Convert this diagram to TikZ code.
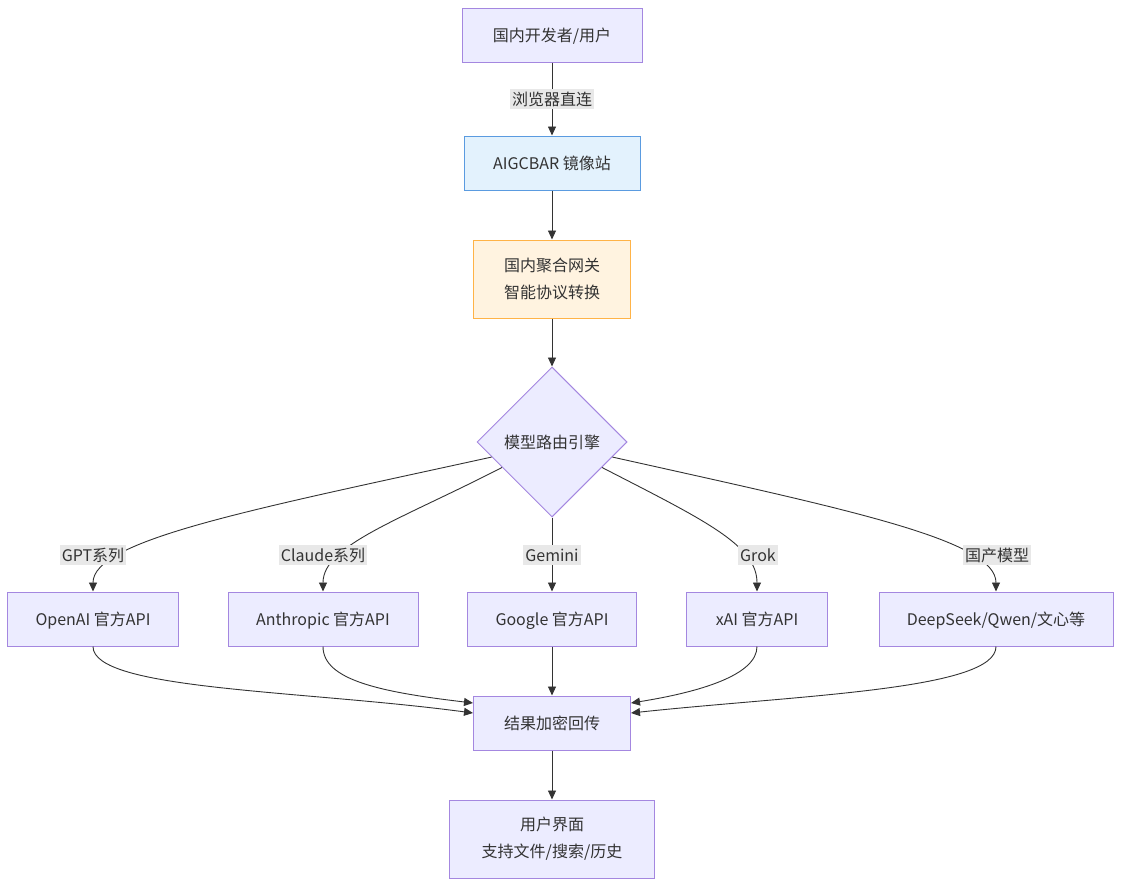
\documentclass[tikz,border=0pt]{standalone}
\usepackage{fontspec}
\setmainfont{Noto Sans CJK SC}
\usetikzlibrary{shapes.geometric,arrows.meta}
\definecolor{nodefill}{HTML}{ECECFF}
\definecolor{nodeline}{HTML}{A487E0}
\definecolor{mirrorfill}{HTML}{E3F2FD}
\definecolor{mirrorline}{HTML}{5A9BE0}
\definecolor{gatefill}{HTML}{FFF3E0}
\definecolor{gateline}{HTML}{FFB347}
\definecolor{edgegray}{HTML}{333333}
\definecolor{labelbg}{HTML}{E8E8E8}
\begin{document}
\begin{tikzpicture}[x=1pt, y=-1pt,
  font=\fontsize{16pt}{27pt}\selectfont, text=edgegray,
  box/.style={draw=nodeline, fill=nodefill, line width=1pt, minimum height=54pt, inner sep=0pt, align=center, text height=14pt, text depth=2pt},
  tallbox/.style={box, minimum height=78pt, text height=, text depth=},
  lbl/.style={fill=labelbg, inner sep=2pt, text height=14pt, text depth=2pt},
  edge/.style={draw=edgegray, line width=0.9pt, -{Triangle[length=9pt,width=8pt]}}]
    \useasboundingbox (0,0) rectangle (1121,886);

    \node[box, minimum width=180pt] (dev) at (552,35) {国内开发者/用户};
    \node[box, draw=mirrorline, fill=mirrorfill, minimum width=176pt] (mirror) at (552,163) {AIGCBAR 镜像站};
    \node[tallbox, draw=gateline, fill=gatefill, minimum width=157pt] (gate) at (552,279) {国内聚合网关\\智能协议转换};
    \node[box, shape=diamond, minimum width=150pt, minimum height=150pt] (router) at (552,442) {模型路由引擎};

    \node[box, minimum width=171pt] (openai) at (93,619) {OpenAI 官方API};
    \node[box, minimum width=190pt] (anthropic) at (323,619) {Anthropic 官方API};
    \node[box, minimum width=169pt] (google) at (552,619) {Google 官方API};
    \node[box, minimum width=141pt] (xai) at (757,619) {xAI 官方API};
    \node[box, minimum width=234pt] (domestic) at (996,619) {DeepSeek/Qwen/文心等};

    \node[box, minimum width=157pt] (result) at (552,723) {结果加密回传};
    \node[tallbox, minimum width=205pt] (ui) at (552,839) {用户界面\\支持文件/搜索/历史};

    % top chain
    \draw[edge] (dev) -- (mirror);
    \draw[edge] (mirror) -- (gate);
    \draw[edge] (gate) -- (router);

    % routes out of the engine
    \draw[edge] (router.194) .. controls (250,510) and (93,540) .. (openai.north);
    \draw[edge] (router.207) .. controls (400,520) and (323,545) .. (anthropic.north);
    \draw[edge] (router) -- (google);
    \draw[edge] (router.333) .. controls (704,520) and (757,545) .. (xai.north);
    \draw[edge] (router.346) .. controls (850,510) and (996,540) .. (domestic.north);

    % back to the result
    \draw[edge] (openai.south) .. controls (93,690) and (300,690) .. ([yshift=10pt]result.west);
    \draw[edge] (anthropic.south) .. controls (323,680) and (380,692) .. ([yshift=20pt]result.west);
    \draw[edge] (google) -- (result);
    \draw[edge] (xai.south) .. controls (757,675) and (700,692) .. ([yshift=20pt]result.east);
    \draw[edge] (domestic.south) .. controls (996,690) and (800,695) .. ([yshift=10pt]result.east);
    \draw[edge] (result) -- (ui);

    % edge labels
    \node[lbl] (direct) at (552,99) {浏览器直连};
    \node[lbl] (lgpt) at (93,555) {GPT系列};
    \node[lbl] (lclaude) at (323,555) {Claude系列};
    \node[lbl] (lgemini) at (552,555) {Gemini};
    \node[lbl] (lgrok) at (758,555) {Grok};
    \node[lbl] (ldomestic) at (997,555) {国产模型};
\end{tikzpicture}
\end{document}
